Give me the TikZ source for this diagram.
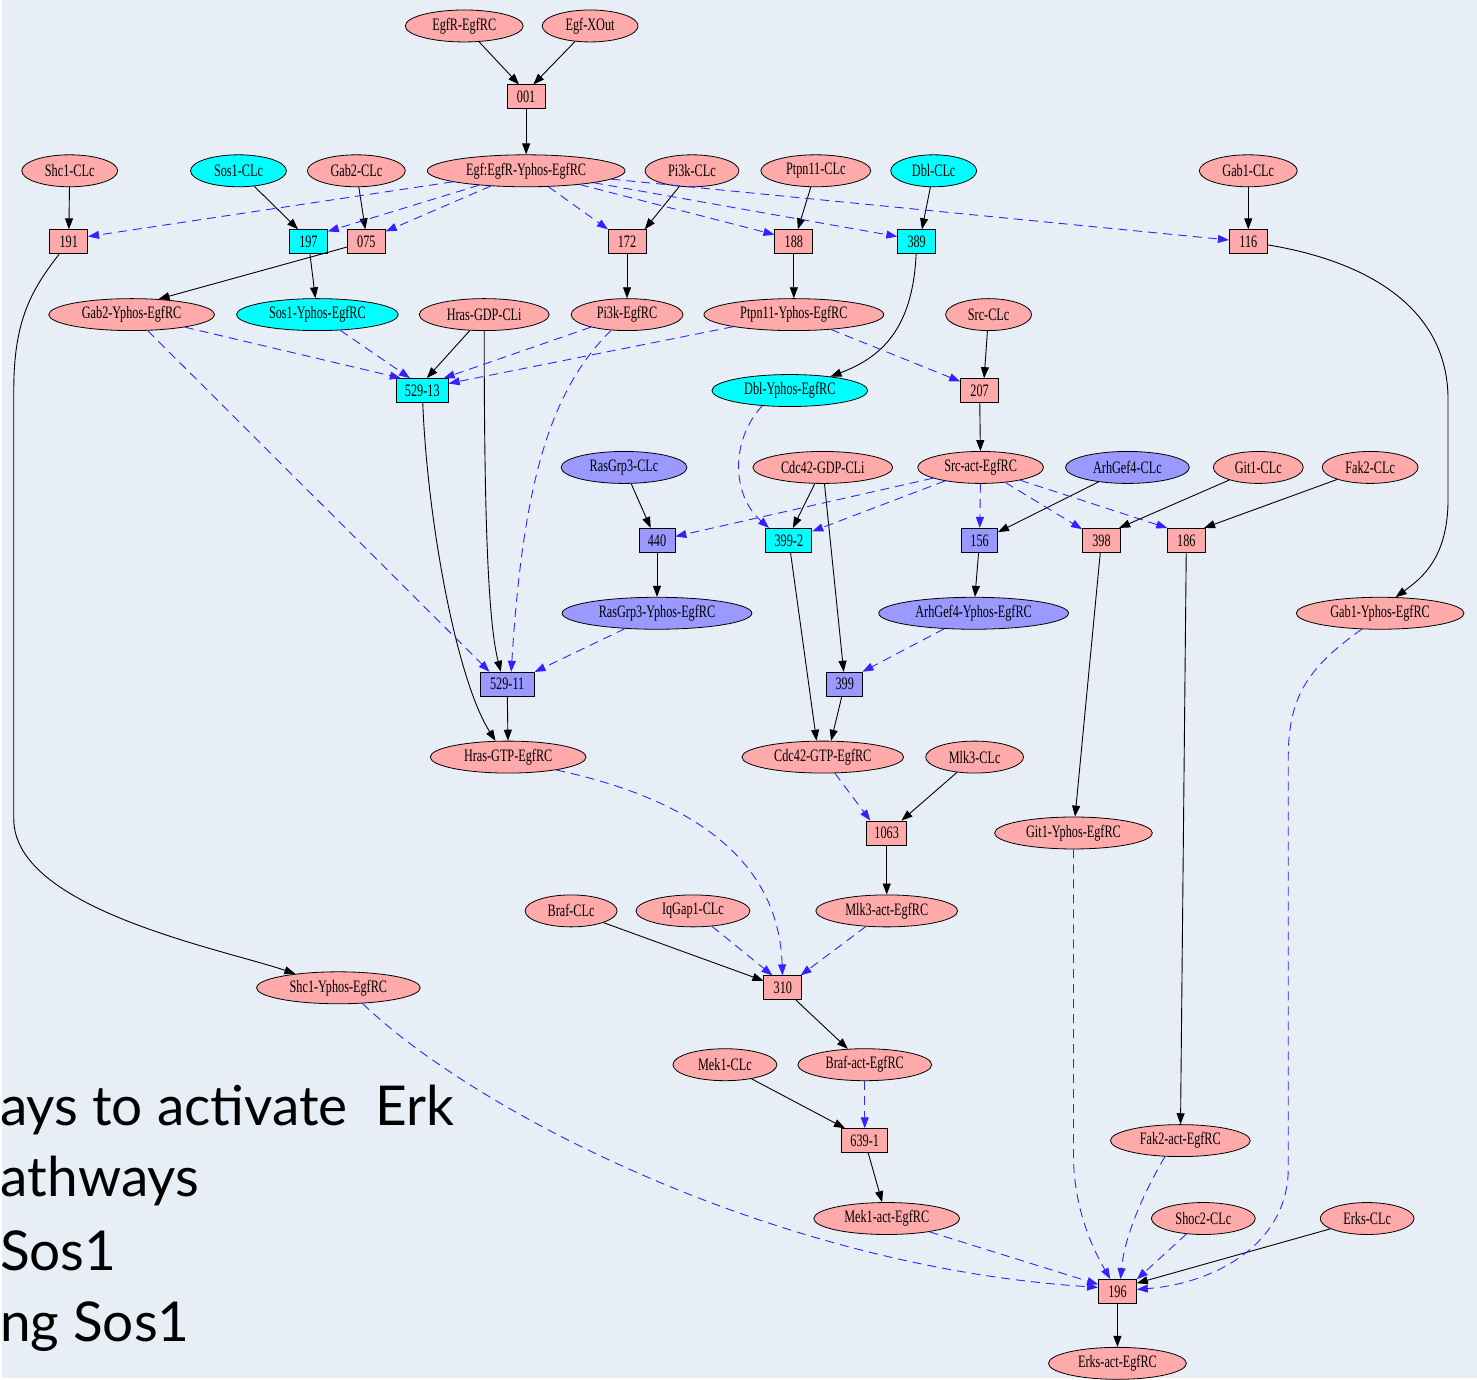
\documentclass[tikz,border=0pt]{standalone}
\usepackage{fontspec}
\usetikzlibrary{arrows.meta,shapes.geometric}
\newfontfamily\gvfont{Liberation Serif}[FakeStretch=0.7]
\newfontfamily\slidefont{Lato}
\definecolor{paper}{RGB}{232,238,246}
\definecolor{pinkfill}{RGB}{255,170,170}
\definecolor{cyanfill}{RGB}{0,255,255}
\definecolor{bluefill}{RGB}{153,153,255}
\definecolor{catal}{RGB}{51,34,255}
\begin{document}
\begin{tikzpicture}[x=1pt,y=-1pt,
  base/.style={draw=black,line width=0.8pt,inner sep=0pt,text=black,
    font=\gvfont\fontsize{17.5}{17.5}\selectfont},
  ep/.style={base,ellipse,fill=pinkfill,minimum height=32},
  ec/.style={base,ellipse,fill=cyanfill,minimum height=32},
  eb/.style={base,ellipse,fill=bluefill,minimum height=32},
  bx/.style={base,rectangle,minimum height=24},
  bp/.style={bx,fill=pinkfill},
  bc/.style={bx,fill=cyanfill},
  bb/.style={bx,fill=bluefill},
  rx/.style={draw=black,line width=0.9pt,-{Triangle[length=11pt,width=8pt]}},
  cx/.style={draw=catal,line width=0.9pt,dash pattern=on 9pt off 6pt,
    -{Triangle[length=11pt,width=8pt,color=catal]}},
  slide/.style={anchor=base west,inner sep=0pt,font=\slidefont\fontsize{55}{55}\selectfont}
]
% paper background
\fill[paper] (0,0) rectangle (1477,1380);

% ---- species and reactions ----
\node[ep,minimum width=118] (egfr) at (463,26) {EgfR-EgfRC};
\node[ep,minimum width=96] (egfx) at (589,26) {Egf-XOut};
\node[bp,minimum width=38] (r001) at (525,97) {001};

\node[ep,minimum width=96] (shc1) at (68,171) {Shc1-CLc};
\node[ec,minimum width=96] (sos1) at (237,171) {Sos1-CLc};
\node[ep,minimum width=98] (gab2) at (355,171) {Gab2-CLc};
\node[ep,minimum width=198] (egfy) at (525,171) {Egf:EgfR-Yphos-EgfRC};
\node[ep,minimum width=94] (pi3k) at (691,171) {Pi3k-CLc};
\node[ep,minimum width=110] (ptpn) at (815,171) {Ptpn11-CLc};
\node[ec,minimum width=86] (dbl) at (933,171) {Dbl-CLc};
\node[ep,minimum width=98] (gab1) at (1248,171) {Gab1-CLc};

\node[bp,minimum width=38] (r191) at (67,242) {191};
\node[bc,minimum width=38] (r197) at (307,242) {197};
\node[bp,minimum width=38] (r075) at (365,242) {075};
\node[bp,minimum width=38] (r172) at (626,242) {172};
\node[bp,minimum width=38] (r188) at (793,242) {188};
\node[bc,minimum width=38] (r389) at (916,242) {389};
\node[bp,minimum width=38] (r116) at (1248,242) {116};

\node[ep,minimum width=166] (gab2y) at (130,315) {Gab2-Yphos-EgfRC};
\node[ec,minimum width=162] (sos1y) at (316,315) {Sos1-Yphos-EgfRC};
\node[ep,minimum width=130] (hrasgdp) at (483,315) {Hras-GDP-CLi};
\node[ep,minimum width=112] (pi3ky) at (626,315) {Pi3k-EgfRC};
\node[ep,minimum width=180] (ptpny) at (793,315) {Ptpn11-Yphos-EgfRC};
\node[ep,minimum width=86] (src) at (988,315) {Src-CLc};

\node[bc,minimum width=52] (r52913) at (421,391) {529-13};
\node[ec,minimum width=156] (dbly) at (789,391) {Dbl-Yphos-EgfRC};
\node[bp,minimum width=38] (r207) at (979,391) {207};

\node[eb,minimum width=126] (rasgrp) at (623,468) {RasGrp3-CLc};
\node[ep,minimum width=140] (cdcgdp) at (822,468) {Cdc42-GDP-CLi};
\node[ep,minimum width=126] (srcact) at (980,468) {Src-act-EgfRC};
\node[eb,minimum width=124] (arh) at (1127,468) {ArhGef4-CLc};
\node[ep,minimum width=90] (git1) at (1258,468) {Git1-CLc};
\node[ep,minimum width=96] (fak2) at (1370,468) {Fak2-CLc};

\node[bb,minimum width=36] (r440) at (656,541) {440};
\node[bc,minimum width=46] (r3992) at (788,541) {399-2};
\node[bb,minimum width=36] (r156) at (979,541) {156};
\node[bp,minimum width=38] (r398) at (1101,541) {398};
\node[bp,minimum width=38] (r186) at (1186,541) {186};

\node[eb,minimum width=190] (rasy) at (656,614) {RasGrp3-Yphos-EgfRC};
\node[eb,minimum width=190] (arhy) at (973,614) {ArhGef4-Yphos-EgfRC};
\node[ep,minimum width=168] (gab1y) at (1380,614) {Gab1-Yphos-EgfRC};

\node[bb,minimum width=54] (r52911) at (506,685) {529-11};
\node[bb,minimum width=36] (r399) at (844,685) {399};

\node[ep,minimum width=156] (hrasgtp) at (507,758) {Hras-GTP-EgfRC};
\node[ep,minimum width=162] (cdcgtp) at (822,758) {Cdc42-GTP-EgfRC};
\node[ep,minimum width=98] (mlk3) at (974,758) {Mlk3-CLc};

\node[bp,minimum width=40] (r1063) at (886,834) {1063};
\node[ep,minimum width=158] (git1y) at (1073,834) {Git1-Yphos-EgfRC};

\node[ep,minimum width=92] (braf) at (570,912) {Braf-CLc};
\node[ep,minimum width=114] (iqgap) at (692,912) {IqGap1-CLc};
\node[ep,minimum width=142] (mlk3y) at (886,912) {Mlk3-act-EgfRC};

\node[bp,minimum width=38] (r310) at (782,989) {310};
\node[ep,minimum width=164] (shc1y) at (337,989) {Shc1-Yphos-EgfRC};

\node[ep,minimum width=104] (mek1) at (724,1066) {Mek1-CLc};
\node[ep,minimum width=134] (brafy) at (864,1066) {Braf-act-EgfRC};

\node[bp,minimum width=46] (r6391) at (864,1142) {639-1};
\node[ep,minimum width=140] (fak2y) at (1180,1142) {Fak2-act-EgfRC};

\node[ep,minimum width=146] (mek1y) at (886,1220) {Mek1-act-EgfRC};
\node[ep,minimum width=104] (shoc2) at (1203,1220) {Shoc2-CLc};
\node[ep,minimum width=94] (erks) at (1367,1220) {Erks-CLc};

\node[bp,minimum width=38] (r196) at (1117,1293) {196};
\node[ep,minimum width=138] (erksy) at (1117,1365) {Erks-act-EgfRC};

% ---- reactant / product links ----
\draw[rx] (egfr) -- (r001.120);
\draw[rx] (egfx) -- (r001.60);
\draw[rx] (r001) -- (egfy);
\draw[rx] (shc1) -- (r191);
\draw[rx] (sos1) -- (r197.130);
\draw[rx] (gab2) -- (r075.95);
\draw[rx] (pi3k) -- (r172.35);
\draw[rx] (ptpn) -- (r188.72);
\draw[rx] (dbl) -- (r389.67);
\draw[rx] (gab1) -- (r116);
\draw[rx] (r197) -- (sos1y);
\draw[rx] (r075) -- (gab2y.30);
\draw[rx] (r172) -- (pi3ky);
\draw[rx] (r188) -- (ptpny);
\draw[rx] (r191) .. controls (30,290) and (12,320) .. (12,390) -- (12,820)
  .. controls (12,910) and (220,950) .. (shc1y.162);
\draw[rx] (r116) .. controls (1370,262) and (1448,310) .. (1448,400) -- (1448,500)
  .. controls (1448,560) and (1420,580) .. (gab1y.46);
\draw[rx] (r389) .. controls (912,330) and (880,358) .. (dbly.19);
\draw[rx] (hrasgdp) -- (r52913.70);
\draw[rx] (hrasgdp) .. controls (483,500) and (486,620) .. (r52911.117);
\draw[rx] (r52913) .. controls (426,520) and (455,680) .. (hrasgtp.128);
\draw[rx] (src) -- (r207.70);
\draw[rx] (r207) -- (srcact);
\draw[rx] (rasgrp) -- (r440.117);
\draw[rx] (r440) -- (rasy);
\draw[rx] (cdcgdp) -- (r3992.72);
\draw[rx] (cdcgdp) -- (r399.95);
\draw[rx] (r3992) -- (cdcgtp.111);
\draw[rx] (arh) -- (r156.24);
\draw[rx] (r156) -- (arhy);
\draw[rx] (git1) -- (r398.35);
\draw[rx] (r398) -- (git1y);
\draw[rx] (fak2) -- (r186.35);
\draw[rx] (r186) -- (fak2y);
\draw[rx] (r52911) -- (hrasgtp);
\draw[rx] (r399) -- (cdcgtp.63);
\draw[rx] (mlk3) -- (r1063.40);
\draw[rx] (r1063) -- (mlk3y);
\draw[rx] (braf) -- (r310.160);
\draw[rx] (r310) -- (brafy);
\draw[rx] (mek1) -- (r6391.148);
\draw[rx] (r6391) -- (mek1y);
\draw[rx] (erks) -- (r196.23);
\draw[rx] (r196) -- (erksy);

% ---- catalytic (modifier) links ----
\draw[cx] (egfy) -- (r191.15);
\draw[cx] (egfy) -- (r197.28);
\draw[cx] (egfy) -- (r075.28);
\draw[cx] (egfy) -- (r172.147);
\draw[cx] (egfy) -- (r188.160);
\draw[cx] (egfy) -- (r389.165);
\draw[cx] (egfy) -- (r116.175);
\draw[cx] (gab2y) -- (r52913.150);
\draw[cx] (sos1y) -- (r52913.135);
\draw[cx] (pi3ky) -- (r52913.30);
\draw[cx] (ptpny) -- (r52913.15);
\draw[cx] (ptpny) -- (r207.155);
\draw[cx] (gab2y) -- (r52911.145);
\draw[cx] (pi3ky) .. controls (550,390) and (522,480) .. (r52911.72);
\draw[cx] (dbly.209) .. controls (730,440) and (730,495) .. (r3992.148);
\draw[cx] (srcact) -- (r440.12);
\draw[cx] (srcact) -- (r3992.21);
\draw[cx] (srcact) -- (r156);
\draw[cx] (srcact) -- (r398.150);
\draw[cx] (srcact) -- (r186.147);
\draw[cx] (rasy) -- (r52911.24);
\draw[cx] (arhy) -- (r399.35);
\draw[cx] (cdcgtp) -- (r1063.143);
\draw[cx] (hrasgtp.345) .. controls (690,800) and (778,860) .. (r310);
\draw[cx] (iqgap) -- (r310.130);
\draw[cx] (mlk3y) -- (r310.35);
\draw[cx] (brafy) -- (r6391);
\draw[cx] (shc1y.327) .. controls (470,1110) and (770,1268) .. (r196.168);
\draw[cx] (mek1y) -- (r196.160);
\draw[cx] (git1y) -- (1073,1160) .. controls (1074,1215) and (1095,1255) .. (r196.120);
\draw[cx] (fak2y.226) .. controls (1140,1200) and (1124,1240) .. (r196.76);
\draw[cx] (shoc2) -- (r196.32);
\draw[cx] (gab1y.221) .. controls (1305,670) and (1288,700) .. (1288,760) -- (1288,1170)
  .. controls (1288,1245) and (1215,1285) .. (r196.6);

% ---- slide text ----
\node[slide] (s1) at (-2,1127) {ays to activate\ \ Erk};
\node[slide] (s2) at (-1,1198) {athways};
\node[slide] (s3) at (-2,1272) {Sos1};
\node[slide] (s4) at (-2,1343) {ng Sos1};
\end{tikzpicture}
\end{document}
